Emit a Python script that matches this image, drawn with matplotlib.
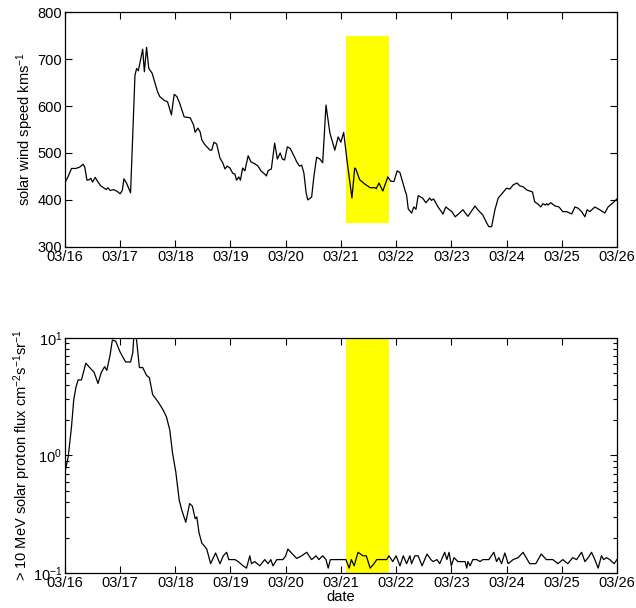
import matplotlib
matplotlib.use('Agg')
import numpy as np
import matplotlib.pyplot as plt
from matplotlib.ticker import LogLocator, NullFormatter

plt.rcParams['font.family'] = ['Liberation Sans', 'DejaVu Sans']
plt.rcParams['mathtext.fontset'] = 'custom'
plt.rcParams['mathtext.rm'] = 'Liberation Sans'
plt.rcParams['mathtext.it'] = 'Liberation Sans'

# days since 03/16 00:00
day_labels = ['03/16', '03/17', '03/18', '03/19', '03/20', '03/21',
              '03/22', '03/23', '03/24', '03/25', '03/26']

# solar wind speed (km/s)
sw_t = [0.00, 0.06, 0.12, 0.20, 0.27, 0.33, 0.36, 0.40, 0.44, 0.47, 0.50, 0.55,
        0.60, 0.65, 0.70, 0.75, 0.78, 0.82, 0.88, 0.95, 1.00, 1.04, 1.07, 1.12,
        1.19, 1.23, 1.27, 1.30, 1.33, 1.41, 1.44, 1.48, 1.52, 1.58, 1.63, 1.68,
        1.72, 1.80, 1.86, 1.93, 1.98, 2.03, 2.08, 2.16, 2.22, 2.27, 2.33, 2.36,
        2.41, 2.45, 2.48, 2.54, 2.63, 2.66, 2.70, 2.75, 2.81, 2.86, 2.90, 2.94,
        2.99, 3.04, 3.08, 3.11, 3.15, 3.18, 3.22, 3.26, 3.32, 3.37, 3.44, 3.50,
        3.55, 3.62, 3.65, 3.68, 3.74, 3.80, 3.85, 3.90, 3.94, 3.98, 4.03, 4.08,
        4.14, 4.20, 4.25, 4.29, 4.33, 4.37, 4.40, 4.47, 4.51, 4.56, 4.62, 4.67,
        4.73, 4.80, 4.89, 4.95, 5.00, 5.05, 5.11, 5.20, 5.25, 5.27, 5.34, 5.43,
        5.53, 5.62, 5.64, 5.69, 5.76, 5.85, 5.90, 5.96, 6.02, 6.07, 6.16, 6.19,
        6.22, 6.28, 6.32, 6.36, 6.40, 6.48, 6.54, 6.61, 6.64, 6.68, 6.76, 6.85,
        6.90, 7.01, 7.07, 7.12, 7.21, 7.30, 7.43, 7.48, 7.57, 7.64, 7.68, 7.73,
        7.79, 7.85, 7.93, 8.00, 8.06, 8.12, 8.19, 8.24, 8.30, 8.37, 8.47, 8.51,
        8.57, 8.62, 8.66, 8.70, 8.73, 8.75, 8.80, 8.88, 8.95, 9.02, 9.09, 9.18,
        9.24, 9.30, 9.36, 9.42, 9.46, 9.51, 9.60, 9.69, 9.78, 9.84, 9.93, 10.0]
sw_v = [436, 450, 467, 467, 470, 476, 470, 442, 443, 446, 438, 448,
        438, 430, 426, 422, 426, 420, 422, 418, 413, 420, 445, 435,
        415, 540, 666, 680, 675, 721, 673, 725, 680, 670, 650, 630,
        620, 612, 609, 581, 625, 620, 606, 577, 576, 575, 560, 544,
        553, 545, 528, 517, 506, 506, 523, 519, 489, 479, 466, 472,
        468, 457, 455, 442, 449, 442, 468, 462, 494, 481, 477, 472,
        462, 455, 451, 462, 466, 521, 487, 500, 487, 485, 513, 510,
        496, 481, 472, 474, 457, 415, 400, 406, 449, 491, 487, 479,
        602, 543, 506, 534, 523, 544, 485, 404, 468, 466, 443, 434,
        426, 426, 424, 436, 419, 449, 440, 439, 462, 458, 421, 410,
        381, 372, 385, 380, 409, 404, 394, 404, 399, 402, 385, 370,
        385, 375, 364, 369, 379, 365, 387, 379, 368, 351, 343, 343,
        379, 404, 415, 425, 423, 432, 436, 430, 428, 421, 417, 396,
        391, 385, 392, 389, 392, 389, 394, 387, 385, 375, 375, 370,
        385, 382, 375, 364, 379, 375, 385, 379, 372, 385, 394, 402]

# >10 MeV proton flux
pf_t = [0.00, 0.06, 0.12, 0.16, 0.20, 0.24, 0.30, 0.38, 0.45, 0.53, 0.60, 0.66,
        0.72, 0.76, 0.82, 0.86, 0.92, 1.00, 1.10, 1.19, 1.23, 1.25, 1.29, 1.35,
        1.41, 1.48, 1.53, 1.59, 1.69, 1.78, 1.84, 1.90, 1.95, 2.01, 2.07, 2.12,
        2.19, 2.26, 2.31, 2.36, 2.39, 2.43, 2.48, 2.57, 2.64, 2.73, 2.81, 2.87,
        2.93, 2.97, 3.08, 3.14, 3.23, 3.29, 3.35, 3.38, 3.44, 3.53, 3.62, 3.68,
        3.73, 3.77, 3.84, 3.95, 4.00, 4.04, 4.11, 4.20, 4.29, 4.38, 4.47, 4.55,
        4.60, 4.67, 4.73, 4.77, 4.81, 5.01, 5.09, 5.15, 5.19, 5.24, 5.31, 5.40,
        5.46, 5.53, 5.60, 5.65, 5.83, 5.87, 5.94, 6.00, 6.07, 6.13, 6.19, 6.25,
        6.28, 6.34, 6.40, 6.47, 6.56, 6.63, 6.67, 6.74, 6.79, 6.88, 6.92, 6.96,
        7.00, 7.05, 7.12, 7.25, 7.28, 7.30, 7.34, 7.39, 7.46, 7.52, 7.57, 7.68,
        7.77, 7.82, 7.86, 7.91, 7.97, 8.03, 8.12, 8.21, 8.30, 8.42, 8.53, 8.63,
        8.72, 8.84, 8.93, 9.02, 9.11, 9.20, 9.27, 9.36, 9.42, 9.48, 9.54, 9.60,
        9.66, 9.72, 9.76, 9.81, 9.87, 9.95, 10.0]
pf_v = [0.72, 0.97, 1.75, 2.97, 3.8, 4.4, 4.4, 6.1, 5.6, 5.1, 4.1, 5.1,
        5.7, 5.3, 7.2, 9.6, 9.4, 7.6, 6.25, 6.25, 7.5, 10.5, 10.5, 5.6,
        5.6, 4.8, 4.6, 3.3, 2.85, 2.44, 2.13, 1.65, 1.05, 0.72, 0.42, 0.34,
        0.27, 0.39, 0.37, 0.29, 0.30, 0.22, 0.18, 0.16, 0.12, 0.148, 0.12, 0.14,
        0.15, 0.13, 0.13, 0.125, 0.115, 0.11, 0.14, 0.12, 0.125, 0.115, 0.13, 0.12,
        0.13, 0.115, 0.13, 0.13, 0.14, 0.16, 0.147, 0.133, 0.14, 0.15, 0.13, 0.14,
        0.13, 0.14, 0.13, 0.11, 0.13, 0.13, 0.13, 0.11, 0.13, 0.115, 0.15, 0.14,
        0.14, 0.11, 0.12, 0.13, 0.13, 0.14, 0.125, 0.14, 0.115, 0.14, 0.12, 0.14,
        0.12, 0.14, 0.14, 0.115, 0.145, 0.13, 0.125, 0.13, 0.12, 0.15, 0.13, 0.15,
        0.115, 0.135, 0.125, 0.125, 0.11, 0.125, 0.115, 0.13, 0.13, 0.125, 0.13, 0.13,
        0.15, 0.125, 0.135, 0.12, 0.148, 0.12, 0.13, 0.135, 0.15, 0.12, 0.12, 0.145,
        0.13, 0.13, 0.12, 0.13, 0.12, 0.135, 0.13, 0.15, 0.125, 0.135, 0.15, 0.13,
        0.11, 0.14, 0.13, 0.135, 0.13, 0.12, 0.13]

# highlighted interval
span_t = [5.09, 5.87]
span_sw = [350, 750]

fig = plt.figure(figsize=(6.36, 6.08), dpi=100)
ax1 = fig.add_axes([0.102, 0.594, 0.868, 0.386])
ax2 = fig.add_axes([0.102, 0.0576, 0.868, 0.3865])

# top panel
ax1.fill_between(span_t, span_sw[0], span_sw[1], color='#ffff00', linewidth=0)
ax1.plot(sw_t, sw_v, color='k', linewidth=0.9)
ax1.set_xlim(0, 10)
ax1.set_ylim(300, 800)
ax1.set_yticks([300, 400, 500, 600, 700, 800])
ax1.set_ylabel('solar wind speed kms$^{-1}$', fontsize=10.5, labelpad=1)

# bottom panel
ax2.axvspan(span_t[0], span_t[1], color='#ffff00', linewidth=0)
ax2.plot(pf_t, pf_v, color='k', linewidth=0.9)
ax2.set_yscale('log')
ax2.set_xlim(0, 10)
ax2.set_ylim(0.1, 10)
ax2.yaxis.set_minor_locator(LogLocator(base=10, subs=np.arange(2, 10)))
ax2.yaxis.set_minor_formatter(NullFormatter())
ax2.set_ylabel('> 10 MeV solar proton flux cm$^{-2}$s$^{-1}$sr$^{-1}$', fontsize=10.5, labelpad=-0.5)
ax2.set_xlabel('date', fontsize=10.5, labelpad=0)

for ax in (ax1, ax2):
    ax.set_xticks(range(len(day_labels)))
    ax.set_xticklabels(day_labels)
    ax.tick_params(which='both', direction='in', top=True, right=True,
                   labelsize=10.5, width=0.8, pad=2)
    ax.tick_params(which='major', length=5)
    ax.tick_params(which='minor', length=3)
    for s in ax.spines.values():
        s.set_linewidth(0.9)

fig.savefig('out.png', dpi=100)
